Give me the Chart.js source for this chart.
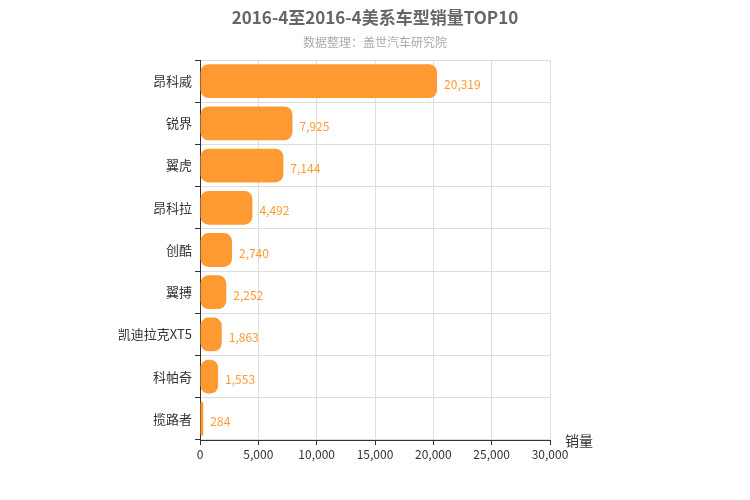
<!DOCTYPE html>
<html><head><meta charset="utf-8">
<script src="https://cdn.jsdelivr.net/npm/chart.js@4"></script>
<style>body{margin:0}#wrap{width:750px;height:500px}</style>
</head><body><div id="wrap"><canvas id="c"></canvas></div>
<script>
const categories = ['昂科威', '锐界', '翼虎', '昂科拉', '创酷', '翼搏', '凯迪拉克XT5', '科帕奇', '揽路者'];
const sales = [20319, 7925, 7144, 4492, 2740, 2252, 1863, 1553, 284];
const xTicks = [0, 5000, 10000, 15000, 20000, 25000, 30000];
const FONT = "'Noto Sans CJK SC', 'Noto Sans', sans-serif";

const extras = {
    id: 'extras',
    afterDraw(chart) {
        const ctx = chart.ctx;
        ctx.save();
        ctx.textAlign = 'center';
        ctx.fillStyle = '#666';
        ctx.font = 'bold 17px ' + FONT;
        ctx.fillText('2016-4至2016-4美系车型销量TOP10', 375, 24);
        ctx.fillStyle = '#aaa';
        ctx.font = '12px ' + FONT;
        ctx.fillText('数据整理：盖世汽车研究院', 375, 47);
        ctx.fillStyle = '#333';
        ctx.font = '14px ' + FONT;
        ctx.textAlign = 'left';
        ctx.fillText('销量', 565, 446);
        const meta = chart.getDatasetMeta(0);
        ctx.fillStyle = '#ff9a33';
        ctx.font = '12px ' + FONT;
        ctx.textBaseline = 'middle';
        meta.data.forEach((bar, i) => {
            ctx.fillText(sales[i].toLocaleString('en-US'), bar.x + 7, bar.y + 3);
        });
        ctx.restore();
    }
};

new Chart(document.getElementById('c'), {
    type: 'bar',
    data: {
        labels: categories,
        datasets: [{
            data: sales,
            backgroundColor: '#ff9a33',
            borderRadius: 8,
            borderSkipped: false,
            barPercentage: 0.8,
            categoryPercentage: 1
        }]
    },
    options: {
        indexAxis: 'y',
        responsive: true,
        maintainAspectRatio: false,
        animation: false,
        layout: { padding: { top: 60, right: 200, left: 0, bottom: 0 } },
        plugins: { legend: { display: false }, tooltip: { enabled: false } },
        scales: {
            x: {
                min: 0, max: 30000,
                afterBuildTicks: s => { s.ticks = xTicks.map(v => ({ value: v })); },
                afterFit: s => { s.height = 60; },
                grid: { color: '#ddd', tickLength: 5, tickColor: '#333' },
                border: { color: '#333' },
                ticks: { color: '#333', font: { family: FONT, size: 12 }, padding: 2,
                    callback: v => v.toLocaleString('en-US') }
            },
            y: {
                afterFit: s => { s.width = 200; },
                grid: { color: '#ddd', offset: true, tickLength: 5, tickColor: '#333' },
                border: { color: '#333' },
                ticks: { color: '#333', font: { family: FONT, size: 13 }, padding: 3 }
            }
        }
    },
    plugins: [extras]
});
</script></body></html>
